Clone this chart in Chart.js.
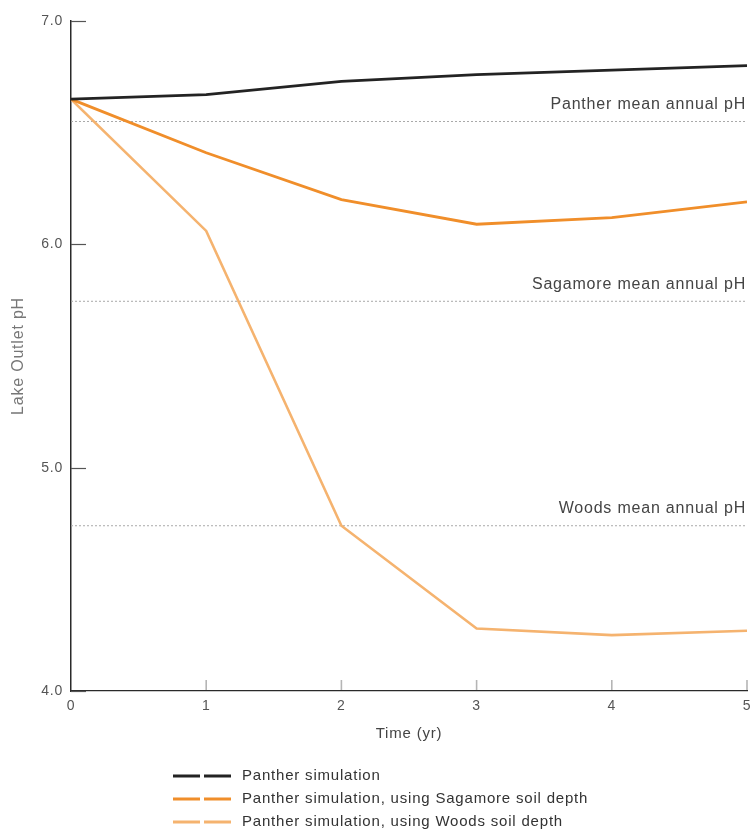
<!DOCTYPE html>
<html>
<head>
<meta charset="utf-8">
<script src="https://cdn.jsdelivr.net/npm/chart.js@4/dist/chart.umd.min.js"></script>
<style>
  html, body { margin: 0; padding: 0; background: #fff; }
  canvas { display: block; }
</style>
</head>
<body>
<canvas id="c" width="751" height="832"></canvas>
<script>
// ---- data ----
const years = [0, 1, 2, 3, 4, 5];
const pantherSim = [6.65, 6.67, 6.73, 6.76, 6.78, 6.80];
const sagamoreSoilSim = [6.65, 6.41, 6.20, 6.09, 6.12, 6.19];
const woodsSoilSim = [6.65, 6.06, 4.74, 4.28, 4.25, 4.27];

const meanLabels = ['Panther mean annual pH', 'Sagamore mean annual pH', 'Woods mean annual pH'];
const meanValues = [6.55, 5.745, 4.74];
const meanSpan = [0, 5];

const seriesLabels = [
  'Panther simulation',
  'Panther simulation, using Sagamore soil depth',
  'Panther simulation, using Woods soil depth'
];
const seriesColors = ['#232323', '#f08e2a', '#f5b36f'];

const yTicks = [4, 5, 6, 7];
const xTicks = [0, 1, 2, 3, 4, 5];

// ---- build datasets ----
const toXY = vals => years.map((x, i) => ({ x: x, y: vals[i] }));
const simSets = [pantherSim, sagamoreSoilSim, woodsSoilSim].map((vals, i) => ({
  label: seriesLabels[i],
  data: toXY(vals),
  borderColor: seriesColors[i],
  borderWidth: i === 2 ? 2.6 : 2.8,
  pointRadius: 0,
  tension: 0,
  order: 1
}));
const meanSets = meanValues.map((v, i) => ({
  label: meanLabels[i],
  data: meanSpan.map(x => ({ x: x, y: v })),
  borderColor: '#a9a9a9',
  borderWidth: 1,
  borderDash: [2, 2],
  pointRadius: 0,
  order: 5
}));

const FONT = '"Liberation Sans", Arial, sans-serif';

const decor = {
  id: 'decor',
  beforeDraw(chart) {
    chart.ctx.letterSpacing = '0.8px';
  },
  afterDraw(chart) {
    const { ctx, chartArea: a, scales: { x, y } } = chart;
    ctx.save();
    ctx.letterSpacing = '0px';
    // inside tick marks on the y axis
    ctx.strokeStyle = '#555';
    ctx.lineWidth = 1.2;
    yTicks.forEach(v => {
      const py = Math.round(y.getPixelForValue(v)) + 0.5;
      ctx.beginPath();
      ctx.moveTo(a.left, py);
      ctx.lineTo(a.left + 15, py);
      ctx.stroke();
    });
    // inside tick marks on the x axis
    ctx.strokeStyle = '#b5b5b5';
    ctx.lineWidth = 1.6;
    xTicks.forEach(v => {
      if (v === 0) return;
      const px = x.getPixelForValue(v);
      ctx.beginPath();
      ctx.moveTo(px, a.bottom - 1);
      ctx.lineTo(px, a.bottom - 11);
      ctx.stroke();
    });
    // mean-line labels
    ctx.letterSpacing = '0.8px';
    ctx.font = '16px ' + FONT;
    ctx.fillStyle = '#444';
    ctx.textAlign = 'right';
    ctx.textBaseline = 'middle';
    meanValues.forEach((v, i) => {
      ctx.fillText(meanLabels[i], a.right - 1, y.getPixelForValue(v) - 17);
    });
    // legend
    ctx.font = '15px ' + FONT;
    ctx.textAlign = 'left';
    ctx.fillStyle = '#333';
    const rows = [776, 799, 822];
    simSets.forEach((ds, i) => {
      ctx.save();
      ctx.strokeStyle = ds.borderColor;
      ctx.lineWidth = 3;
      ctx.setLineDash([27, 4]);
      ctx.beginPath();
      ctx.moveTo(173, rows[i]);
      ctx.lineTo(232, rows[i]);
      ctx.stroke();
      ctx.restore();
      ctx.fillText(ds.label, 242, rows[i]);
    });
    ctx.restore();
  }
};

new Chart(document.getElementById('c'), {
  type: 'line',
  data: { datasets: simSets.concat(meanSets) },
  options: {
    responsive: false,
    animation: false,
    layout: { padding: { left: 0, top: 21, right: 4, bottom: 81 } },
    plugins: { legend: { display: false }, tooltip: { enabled: false } },
    scales: {
      x: {
        type: 'linear',
        min: 0, max: 5,
        afterFit: s => { s.height = 60; s.paddingRight = 0; s.paddingLeft = 0; },
        afterBuildTicks: s => { s.ticks = xTicks.map(v => ({ value: v })); },
        grid: { display: false, drawTicks: false },
        border: { display: true, color: '#2a2a2a', width: 1.3 },
        ticks: { padding: 7, color: '#555', font: { family: FONT, size: 14 }, callback: v => String(v) },
        title: { display: true, text: 'Time (yr)', color: '#444', font: { family: FONT, size: 15 }, padding: { top: 0, bottom: 8.6 } }
      },
      y: {
        type: 'linear',
        min: 4, max: 7,
        afterFit: s => { s.width = 71; },
        afterBuildTicks: s => { s.ticks = yTicks.map(v => ({ value: v })); },
        grid: { display: false, drawTicks: false },
        border: { display: true, color: '#2a2a2a', width: 1.5 },
        ticks: { padding: 8, color: '#555', font: { family: FONT, size: 14 }, callback: v => Number(v).toFixed(1) },
        title: { display: true, text: 'Lake Outlet pH', color: '#777', font: { family: FONT, size: 16 }, padding: { top: 9.4, bottom: 0 } }
      }
    }
  },
  plugins: [decor]
});
</script>
</body>
</html>
